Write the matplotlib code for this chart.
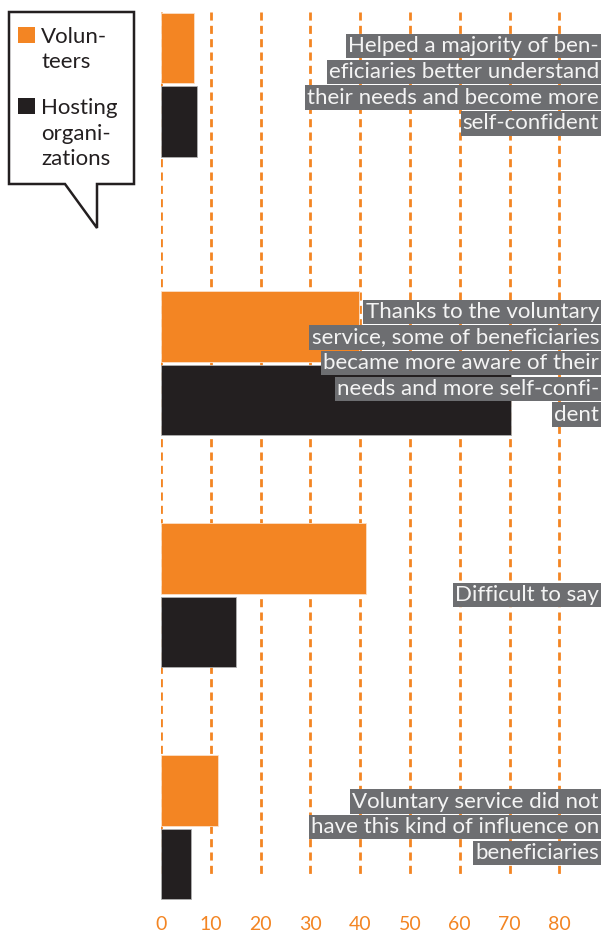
import matplotlib
matplotlib.use("Agg")
import matplotlib.pyplot as plt
from matplotlib.patches import Polygon, Rectangle

# ---- data ----
categories = [
    ["Helped a majority of ben-", "eficiaries better understand",
     "their needs and become more", "self-confident"],
    ["Thanks to the voluntary", "service, some of beneficiaries",
     "became more aware of their", "needs and more self-confi-", "dent"],
    ["Difficult to say"],
    ["Voluntary service did not", "have this kind of influence on",
     "beneficiaries"],
]
volunteers = [6.6, 39.8, 41.2, 11.4]
hosting = [7.3, 70.2, 15.0, 6.0]
xticks = [0, 10, 20, 30, 40, 50, 60, 70, 80]
legend_volunteers = ["Volun-", "teers"]
legend_hosting = ["Hosting", "organi-", "zations"]

# ---- style ----
ORANGE = "#f38523"
DARK = "#231f20"
LABEL_BG = "#6d6e71"
LABEL_FG = "#f4f4f4"
FONT = "Lato"
plt.rcParams["font.family"] = [FONT, "DejaVu Sans"]

W, H = 606, 934
fig = plt.figure(figsize=(W / 100, H / 100), dpi=100)

# group centres along the category axis (first group sits a bit higher)
group_pos = [0.0, 1.2, 2.2, 3.2]
bar_h = 0.304
offset = 0.159
line_step = 0.1108

ax = fig.add_axes([161 / W, (H - 905) / H, 440 / W, 905 / H])
ax.set_xlim(0, 88.35)
ax.set_ylim(3.5353, -0.3655)

# dashed vertical gridlines
ax.vlines(xticks, -0.3138, 3.4017, colors=ORANGE, linewidth=2.0,
          linestyles=(0, (2.9, 1.9)), zorder=1)

yv = [p - offset for p in group_pos]
yh = [p + offset for p in group_pos]
ax.barh(yv, volunteers, height=bar_h, color=ORANGE, edgecolor="#fbe0c8",
        linewidth=0.6, zorder=2)
ax.barh(yh, hosting, height=bar_h, color=DARK, edgecolor="#b0b0b0",
        linewidth=0.6, zorder=2)

# category labels, each line on its own grey strip
for pos, lines in zip(group_pos, categories):
    n = len(lines)
    for i, line in enumerate(lines):
        y = pos + (i - (n - 1) / 2) * line_step
        ax.annotate(line, xy=(1, y), xycoords=("axes fraction", "data"),
                    xytext=(-2, 0), textcoords="offset pixels",
                    ha="right", va="center", fontsize=16, color=LABEL_FG,
                    zorder=4,
                    bbox=dict(boxstyle="square,pad=0.1", fc=LABEL_BG,
                              ec="none"))

ax.set_xticks(xticks)
ax.set_xticklabels([str(t) for t in xticks], color=ORANGE, fontsize=14)
ax.tick_params(axis="x", length=0, pad=8)
ax.set_yticks([])
for s in ax.spines.values():
    s.set_visible(False)
ax.patch.set_alpha(0)

# ---- speech-bubble legend ----
lg = fig.add_axes([0, 0, 1, 1], zorder=5)
lg.set_xlim(0, W)
lg.set_ylim(H, 0)
lg.axis("off")
lg.patch.set_alpha(0)
bubble = [(9, 12), (134, 12), (134, 184), (97, 184), (97, 228),
          (65, 184), (9, 184)]
lg.add_patch(Polygon(bubble, closed=True, fc="white", ec=DARK, lw=1.8,
                     joinstyle="miter"))
lg.add_patch(Rectangle((18, 27), 17, 16, fc=ORANGE, ec="none"))
lg.add_patch(Rectangle((18, 98), 17, 16, fc=DARK, ec="none"))
for i, t in enumerate(legend_volunteers):
    lg.text(41, 43 + 25 * i, t, fontsize=16, color=DARK, va="baseline",
            ha="left")
for i, t in enumerate(legend_hosting):
    lg.text(41, 114 + 25.5 * i, t, fontsize=16, color=DARK, va="baseline",
            ha="left")

fig.savefig("out.png", dpi=100)
